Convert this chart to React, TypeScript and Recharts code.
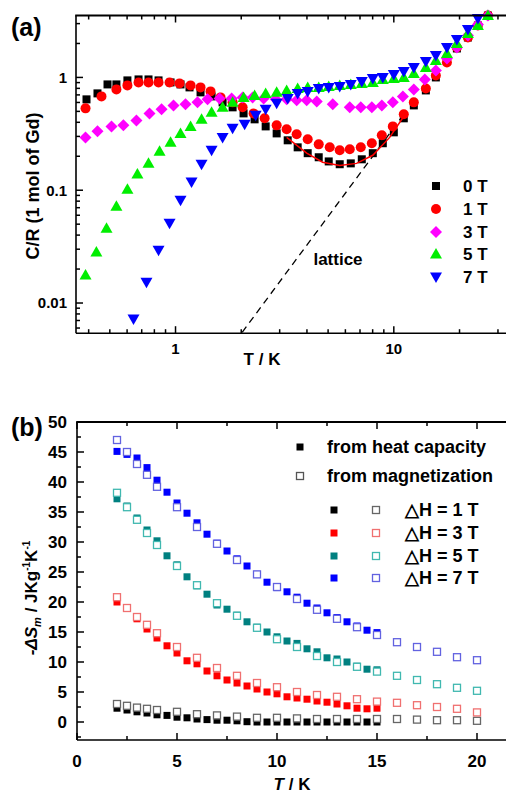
import React from 'react';
import { ScatterChart, Scatter, XAxis, YAxis } from 'recharts';

// ---- (a) C/R vs T (log-log) ----
const t0T = [0.391, 0.439, 0.488, 0.536, 0.602, 0.677, 0.752, 0.836, 0.949, 1.054, 1.159, 1.302, 1.463, 1.643, 1.826, 2.05, 2.303, 2.588, 2.906, 3.265, 3.627, 4.032, 4.529, 5.033, 5.652, 6.351, 7.133, 8.013, 8.903, 10, 11.11, 12.35, 14.02, 15.58, 17.51, 19.45, 21.85, 24.28, 26.99];
const c0T = [0.639, 0.722, 0.867, 0.867, 0.941, 0.96, 0.96, 0.941, 0.903, 0.867, 0.816, 0.737, 0.679, 0.601, 0.543, 0.48, 0.425, 0.368, 0.319, 0.277, 0.24, 0.213, 0.196, 0.18, 0.17, 0.173, 0.188, 0.213, 0.261, 0.326, 0.434, 0.565, 0.767, 1.0, 1.414, 1.806, 2.259, 2.885, 3.537];

const t1T = [0.387, 0.458, 0.536, 0.602, 0.677, 0.752, 0.836, 0.939, 1.043, 1.172, 1.302, 1.447, 1.608, 1.826, 2.029, 2.279, 2.56, 2.906, 3.229, 3.589, 4.032, 4.529, 5.087, 5.652, 6.284, 7.058, 7.929, 8.81, 9.895, 11.11, 12.35, 14.02, 15.58, 17.51, 19.45, 21.85, 24.28, 26.99];
const c1T = [0.532, 0.679, 0.783, 0.85, 0.903, 0.903, 0.903, 0.903, 0.885, 0.85, 0.816, 0.752, 0.665, 0.601, 0.543, 0.48, 0.434, 0.376, 0.347, 0.313, 0.283, 0.255, 0.24, 0.226, 0.231, 0.24, 0.261, 0.307, 0.368, 0.471, 0.601, 0.799, 1.041, 1.358, 1.843, 2.259, 2.885, 3.537];

const t3T = [0.387, 0.439, 0.509, 0.577, 0.662, 0.76, 0.863, 0.979, 1.111, 1.261, 1.402, 1.591, 1.807, 2.029, 2.255, 2.533, 2.876, 3.229, 3.589, 3.99, 4.435, 5.25, 6.284, 7.058, 7.929, 8.81, 9.895, 11.0, 12.35, 13.87, 15.58, 17.51, 19.45, 21.85, 24.28, 26.99];
const c3T = [0.294, 0.333, 0.368, 0.376, 0.416, 0.48, 0.521, 0.565, 0.577, 0.601, 0.639, 0.652, 0.652, 0.665, 0.665, 0.652, 0.639, 0.639, 0.626, 0.626, 0.613, 0.577, 0.543, 0.543, 0.543, 0.565, 0.601, 0.679, 0.783, 0.96, 1.153, 1.473, 1.843, 2.353, 2.944, 3.537];

const t5T = [0.387, 0.434, 0.483, 0.536, 0.602, 0.669, 0.752, 0.845, 0.949, 1.054, 1.172, 1.316, 1.463, 1.643, 1.826, 2.051, 2.303, 2.588, 2.906, 3.229, 3.627, 4.032, 4.529, 5.033, 5.652, 6.351, 7.133, 8.013, 8.903, 10, 11.11, 12.35, 14.02, 15.58, 17.51, 19.45, 21.85, 24.28, 26.99];
const c5T = [0.0177, 0.0283, 0.0461, 0.0722, 0.102, 0.139, 0.173, 0.221, 0.266, 0.319, 0.368, 0.425, 0.49, 0.543, 0.601, 0.665, 0.693, 0.722, 0.737, 0.767, 0.799, 0.816, 0.816, 0.833, 0.85, 0.867, 0.885, 0.903, 0.96, 0.98, 1.0, 1.085, 1.226, 1.414, 1.631, 2.0, 2.452, 2.885, 3.537];

const t7T = [0.642, 0.736, 0.836, 0.939, 1.054, 1.184, 1.316, 1.463, 1.643, 1.826, 2.073, 2.328, 2.588, 2.906, 3.265, 3.627, 4.032, 4.529, 5.033, 5.652, 6.351, 7.133, 8.013, 8.903, 10, 11.11, 12.35, 14.02, 15.58, 17.51, 19.45, 21.85, 24.28];
const c7T = [0.00722, 0.0153, 0.0294, 0.051, 0.0815, 0.118, 0.17, 0.226, 0.294, 0.354, 0.384, 0.461, 0.521, 0.589, 0.652, 0.722, 0.752, 0.799, 0.816, 0.833, 0.867, 0.922, 0.98, 1.0, 1.063, 1.13, 1.226, 1.385, 1.566, 1.843, 2.169, 2.66, 3.327];

// red fit curve through the 0 T minimum, and the lattice contribution
const fitT = [3.23, 3.99, 4.72, 5.65, 6.75, 8.01, 9.57, 11.1];
const fitC = [0.294, 0.213, 0.177, 0.166, 0.173, 0.204, 0.294, 0.45];
const latticeT = [2.02, 11.2];
const latticeC = [0.0055, 0.48];

const fieldsA = ['0 T', '1 T', '3 T', '5 T', '7 T'];
const logXMajor = [1, 10];
const logXMinor = [0.4, 0.5, 0.6, 0.7, 0.8, 0.9, 2, 3, 4, 5, 6, 7, 8, 9, 20, 30];
const logYMajor = [0.01, 0.1, 1];
const logYMinor = [0.006, 0.007, 0.008, 0.009, 0.02, 0.03, 0.04, 0.05, 0.06, 0.07, 0.08, 0.09, 0.2, 0.3, 0.4, 0.5, 0.6, 0.7, 0.8, 0.9, 2, 3];

// ---- (b) -dS_m vs T ----
const hcT = [2, 2.5, 3, 3.5, 4, 4.5, 5, 5.5, 6, 6.5, 7, 7.5, 8, 8.5, 9, 9.5, 10, 10.5, 11, 11.5, 12, 12.5, 13, 13.5, 14, 14.5, 15];
const magT = [2, 2.5, 3, 3.5, 4, 5, 6, 7, 8, 9, 10, 11, 12, 13, 14, 15, 16, 17, 18, 19, 20];

const hc1 = [2.3, 2.0, 1.7, 1.5, 1.2, 1.1, 0.8, 0.7, 0.5, 0.4, 0.3, 0.3, 0.2, 0.05, 0, 0, 0, 0, 0, 0, 0, 0, 0, 0, 0, 0, 0];
const hc3 = [20.0, 19.0, 17.2, 15.5, 14.0, 12.7, 11.5, 10.2, 9.7, 8.5, 7.7, 7.0, 6.5, 6.0, 5.5, 5.0, 4.7, 4.2, 4.0, 3.8, 3.5, 3.3, 3.0, 2.7, 2.3, 2.2, 2.3];
const hc5 = [37.2, 36.0, 34.0, 32.0, 30.2, 27.7, 26.2, 24.2, 22.7, 21.3, 19.5, 18.8, 17.8, 16.7, 15.8, 15.0, 14.2, 13.5, 13.1, 12.2, 11.7, 10.7, 10.5, 10.0, 9.3, 8.8, 8.7];
const hc7 = [45.1, 44.6, 44.0, 42.4, 40.3, 38.3, 36.5, 34.8, 33.2, 31.3, 29.8, 28.5, 27.2, 26.0, 24.6, 23.3, 22.4, 21.7, 20.8, 19.8, 19.0, 18.2, 17.4, 16.7, 16.0, 15.3, 14.9];

const mag1 = [3.0, 2.7, 2.4, 2.2, 2.0, 1.7, 1.3, 1.1, 0.9, 0.7, 0.7, 0.6, 0.5, 0.5, 0.5, 0.5, 0.5, 0.4, 0.3, 0.3, 0.2];
const mag3 = [20.8, 19.0, 17.5, 16.2, 14.8, 12.5, 10.7, 9.0, 7.7, 6.5, 5.8, 5.0, 4.5, 4.2, 3.8, 3.4, 3.2, 2.8, 2.5, 2.2, 1.6];
const mag5 = [38.2, 35.8, 33.7, 31.5, 29.5, 26.0, 22.8, 19.8, 17.7, 15.7, 13.8, 12.5, 11.0, 10.0, 9.2, 8.4, 7.7, 7.0, 6.3, 5.7, 5.2];
const mag7 = [47.0, 45.0, 43.0, 41.2, 39.2, 35.8, 32.5, 29.7, 27.0, 24.6, 22.5, 20.5, 18.7, 17.2, 15.8, 14.5, 13.3, 12.5, 11.7, 10.8, 10.3];

const fieldsB = ['1 T', '3 T', '5 T', '7 T'];
const linXMajor = [0, 5, 10, 15, 20];
const linXMinor = [2.5, 7.5, 12.5, 17.5];
const linYMajor = [0, 5, 10, 15, 20, 25, 30, 35, 40, 45, 50];
const linYMinor = [-2.5, 2.5, 7.5, 12.5, 17.5, 22.5, 27.5, 32.5, 37.5, 42.5, 47.5];

const FONT = '"Liberation Sans", Arial, sans-serif';
const colorsA = ['#000000', '#ff0000', '#ff00ff', '#00ee00', '#0000ff'];
const filledB = ['#000000', '#ff0000', '#008080', '#0000ff'];
const openB = ['#666666', '#f07070', '#40b8b0', '#6262e0'];

// plot boxes (page coordinates) and domains
const W = 508;
const boxA = { left: 76, right: W - 1, top: 15.5, bottom: 333.2 };
const boxB = { left: 77, right: W - 1, top: 422, bottom: 740 };
const domA = [0.35, 33];
const domAy = [0.0054, 3.54];
const domB = [0, 21.5];
const domBy = [-3, 50];

const pts = (xs: number[], ys: number[]) => xs.map((x, i) => ({ x, y: ys[i] }));

// marker shapes
const square = (fill: string, s = 8) => (p: any) => (
  <rect x={p.cx - s / 2} y={p.cy - s / 2} width={s} height={s} fill={fill} />
);
const openSquare = (stroke: string, s = 7) => (p: any) => (
  <rect x={p.cx - s / 2} y={p.cy - s / 2} width={s} height={s} fill="#fff" stroke={stroke} strokeWidth={1.3} />
);
const circle = (fill: string) => (p: any) => <circle cx={p.cx} cy={p.cy} r={5} fill={fill} />;
const diamond = (fill: string) => (p: any) => (
  <polygon points={`${p.cx},${p.cy - 6} ${p.cx + 6},${p.cy} ${p.cx},${p.cy + 6} ${p.cx - 6},${p.cy}`} fill={fill} />
);
const triUp = (fill: string) => (p: any) => (
  <polygon points={`${p.cx},${p.cy - 6} ${p.cx + 6},${p.cy + 4.5} ${p.cx - 6},${p.cy + 4.5}`} fill={fill} />
);
const triDown = (fill: string) => (p: any) => (
  <polygon points={`${p.cx - 6},${p.cy - 4.5} ${p.cx + 6},${p.cy - 4.5} ${p.cx},${p.cy + 6}`} fill={fill} />
);
const noMarker = () => <g />;

// axis labels (majors only)
const xLabel = (fs: number, dy: number) => (p: any) => (
  <text x={p.x} y={p.y + dy} textAnchor="middle" fontFamily={FONT} fontWeight={700} fontSize={fs} fill="#000">
    {String(p.payload.value)}
  </text>
);
const yLabel = (fs: number, dx: number) => (p: any) => (
  <text x={p.x - dx} y={p.y + fs * 0.36} textAnchor="end" fontFamily={FONT} fontWeight={700} fontSize={fs} fill="#000">
    {String(p.payload.value)}
  </text>
);

const axisLine = { stroke: '#000', strokeWidth: 1.6 };

// inward tick marks and the top edge of the frame
type Box = { left: number; right: number; top: number; bottom: number };
function Frame({ box, fx, fy, xMaj, xMin, yMaj, yMin }: {
  box: Box; fx: (v: number) => number; fy: (v: number) => number;
  xMaj: number[]; xMin: number[]; yMaj: number[]; yMin: number[];
}) {
  const px = (v: number) => box.left + fx(v) * (box.right - box.left);
  const py = (v: number) => box.bottom - fy(v) * (box.bottom - box.top);
  const s = { stroke: '#000', strokeWidth: 1.5 };
  return (
    <g>
      <rect x={box.left - 0.8} y={box.top - 1} width={box.right - box.left + 3} height={2} fill="#000" />
      {[...xMaj.map((v) => [v, 7]), ...xMin.map((v) => [v, 4])].map(([v, l]) => (
        <g key={'x' + v}>
          <line x1={px(v)} x2={px(v)} y1={box.bottom} y2={box.bottom - l} {...s} />
          <line x1={px(v)} x2={px(v)} y1={box.top} y2={box.top + l} {...s} />
        </g>
      ))}
      {[...yMaj.map((v) => [v, 7]), ...yMin.map((v) => [v, 4])].map(([v, l]) => (
        <line key={'y' + v} x1={box.left} x2={box.left + l} y1={py(v)} y2={py(v)} {...s} />
      ))}
    </g>
  );
}

const logFrac = (d: number[]) => (v: number) => (Math.log10(v) - Math.log10(d[0])) / (Math.log10(d[1]) - Math.log10(d[0]));
const linFrac = (d: number[]) => (v: number) => (v - d[0]) / (d[1] - d[0]);

export default function App() {
  const shapesA = [square(colorsA[0]), circle(colorsA[1]), diamond(colorsA[2]), triUp(colorsA[3]), triDown(colorsA[4])];
  const seriesA = [pts(t0T, c0T), pts(t1T, c1T), pts(t3T, c3T), pts(t5T, c5T), pts(t7T, c7T)];
  const hcB = [hc1, hc3, hc5, hc7];
  const magB = [mag1, mag3, mag5, mag7];
  const bold = { fontFamily: FONT, fontWeight: 700, fill: '#000' } as const;
  const rowsA = [186, 209, 232, 254, 277];
  const rowsB = [510, 533, 556, 578];

  return (
    <div style={{ position: 'absolute', left: 0, top: 0, width: 506, height: 794, overflow: 'hidden', background: '#fff' }}>
      <div style={{ position: 'absolute', left: 0, top: 0 }}>
        <ScatterChart width={W} height={380} margin={{ top: boxA.top, right: 1, bottom: 0, left: 0 }}>
          <XAxis dataKey="x" type="number" scale="log" domain={domA} ticks={logXMajor} interval={0}
            height={380 - boxA.bottom} tickSize={0} tickMargin={0} tickLine={false} axisLine={axisLine} tick={xLabel(15, 21)} />
          <YAxis dataKey="y" type="number" scale="log" domain={domAy} ticks={logYMajor} interval={0}
            width={boxA.left} tickSize={0} tickMargin={0} tickLine={false} axisLine={axisLine} tick={yLabel(15, 9)} />
          <Scatter data={pts(latticeT, latticeC)} shape={noMarker} line={{ stroke: '#000', strokeWidth: 1.3, strokeDasharray: '7 5' }}
            lineType="joint" isAnimationActive={false} />
          <Scatter data={seriesA[0]} shape={shapesA[0]} isAnimationActive={false} />
          <Scatter data={pts(fitT, fitC)} shape={noMarker} line={{ stroke: '#ff0000', strokeWidth: 1.5 }}
            lineType="joint" isAnimationActive={false} />
          {seriesA.slice(1).map((d, i) => (
            <Scatter key={fieldsA[i + 1]} data={d} shape={shapesA[i + 1]} isAnimationActive={false} />
          ))}
        </ScatterChart>
      </div>

      <div style={{ position: 'absolute', left: 0, top: 380 }}>
        <ScatterChart width={W} height={414} margin={{ top: boxB.top - 380, right: 1, bottom: 0, left: 0 }}>
          <XAxis dataKey="x" type="number" domain={domB} ticks={linXMajor} interval={0}
            height={794 - boxB.bottom} tickSize={0} tickMargin={0} tickLine={false} axisLine={axisLine} tick={xLabel(17, 27)} />
          <YAxis dataKey="y" type="number" domain={domBy} ticks={linYMajor} interval={0}
            width={boxB.left} tickSize={0} tickMargin={0} tickLine={false} axisLine={axisLine} tick={yLabel(17, 10)} />
          {hcB.map((d, i) => (
            <Scatter key={'hc' + fieldsB[i]} data={pts(hcT, d)} shape={square(filledB[i], 7)} isAnimationActive={false} />
          ))}
          {magB.map((d, i) => (
            <Scatter key={'mag' + fieldsB[i]} data={pts(magT, d)} shape={openSquare(openB[i], 7)} isAnimationActive={false} />
          ))}
        </ScatterChart>
      </div>

      <svg width={506} height={794} style={{ position: 'absolute', left: 0, top: 0, pointerEvents: 'none' }}>
        <Frame box={boxA} fx={logFrac(domA)} fy={logFrac(domAy)} xMaj={logXMajor} xMin={logXMinor} yMaj={logYMajor} yMin={logYMinor} />
        <Frame box={boxB} fx={linFrac(domB)} fy={linFrac(domBy)} xMaj={linXMajor} xMin={linXMinor} yMaj={linYMajor} yMin={linYMinor} />

        {/* panel (a) */}
        <text x={11} y={36} fontSize={25} {...bold}>(a)</text>
        <text x={39} y={186} fontSize={18} textAnchor="middle" transform="rotate(-90 39 186)" {...bold}>C/R (1 mol of Gd)</text>
        <text x={262} y={365} fontSize={17} textAnchor="middle" {...bold}>T / K</text>
        <text x={338} y={265} fontSize={17} textAnchor="middle" {...bold}>lattice</text>
        {fieldsA.map((f, i) => (
          <g key={f}>
            {shapesA[i]({ cx: 436, cy: rowsA[i] })}
            <text x={463} y={rowsA[i] + 6} fontSize={17} {...bold}>{f}</text>
          </g>
        ))}

        {/* panel (b) */}
        <text x={11} y={436} fontSize={25} {...bold}>(b)</text>
        <g transform="rotate(-90 37 598)">
          <text x={37} y={598} fontSize={17} textAnchor="middle" {...bold}>
            <tspan fontStyle="italic">-ΔS</tspan>
            <tspan fontStyle="italic" fontSize={11} dy={4}>m</tspan>
            <tspan dy={-4}> / JKg</tspan>
            <tspan fontSize={10} dy={-7}>-1</tspan>
            <tspan dy={7}>K</tspan>
            <tspan fontSize={10} dy={-7}>-1</tspan>
          </text>
        </g>
        <text x={292} y={790} fontSize={17} textAnchor="middle" {...bold}>
          <tspan fontStyle="italic">T</tspan> / K
        </text>
        <rect x={296.5} y={443.5} width={7} height={7} fill="#000" />
        <text x={327} y={453} fontSize={18} {...bold}>from heat capacity</text>
        <rect x={296.5} y={472.5} width={7} height={7} fill="#fff" stroke="#555" strokeWidth={1.3} />
        <text x={327} y={482} fontSize={18} {...bold}>from magnetization</text>
        {fieldsB.map((f, i) => (
          <g key={f}>
            <rect x={330.5} y={rowsB[i] - 3.5} width={7} height={7} fill={filledB[i]} />
            <rect x={372.5} y={rowsB[i] - 3.5} width={7} height={7} fill="#fff" stroke={openB[i]} strokeWidth={1.3} />
            <text x={405} y={rowsB[i] + 6} fontSize={18} {...bold}>△H = {f}</text>
          </g>
        ))}
      </svg>
    </div>
  );
}
